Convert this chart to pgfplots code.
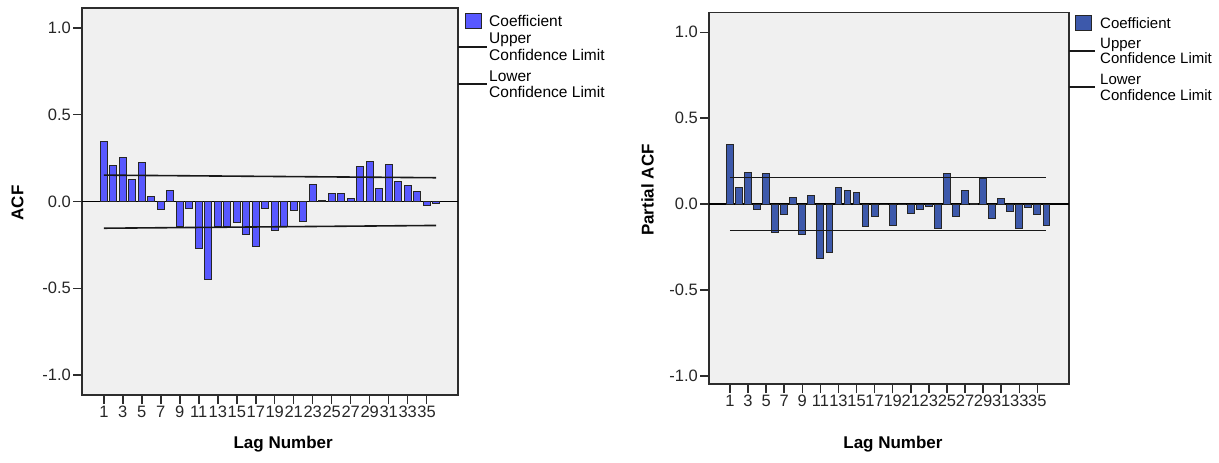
\documentclass[border=0pt]{standalone}
\usepackage{pgfplots}
\usepackage{pgfplotstable}
\pgfplotsset{compat=1.18}
\usepackage{fontspec}
\setmainfont{Liberation Sans}
\definecolor{acfblue}{RGB}{88,88,255}
\definecolor{pacfblue}{RGB}{61,89,171}
\definecolor{panel}{RGB}{240,240,240}
\definecolor{frame}{RGB}{45,45,45}

\pgfplotstableread{
lag val
1 0.346
2 0.206
3 0.256
4 0.125
5 0.225
6 0.027
7 -0.044
8 0.063
9 -0.144
10 -0.042
11 -0.273
12 -0.451
13 -0.144
14 -0.144
15 -0.119
16 -0.192
17 -0.261
18 -0.038
19 -0.169
20 -0.144
21 -0.052
22 -0.113
23 0.096
24 0.003
25 0.046
26 0.044
27 0.015
28 0.202
29 0.231
30 0.077
31 0.211
32 0.115
33 0.090
34 0.056
35 -0.025
36 -0.010
}\acftable

\pgfplotstableread{
lag val
1 0.346
2 0.097
3 0.184
4 -0.029
5 0.179
6 -0.167
7 -0.060
8 0.037
9 -0.177
10 0.047
11 -0.315
12 -0.282
13 0.095
14 0.080
15 0.066
16 -0.130
17 -0.070
18 -0.003
19 -0.124
20 -0.005
21 -0.058
22 -0.033
23 -0.016
24 -0.144
25 0.179
26 -0.070
27 0.076
28 0.002
29 0.151
30 -0.085
31 0.035
32 -0.045
33 -0.140
34 -0.019
35 -0.060
36 -0.124
}\pacftable

\pgfplotsset{spss/.style={
  scale only axis,
  axis background/.style={fill=panel},
  axis line style={draw=frame, line width=1.4pt},
  tick style={draw=frame, line width=1.5pt},
  tick align=outside, major tick length=9pt,
  xtick pos=bottom, ytick pos=left,
  minor tick num=0,
  xtick={1,3,...,35},
  ytick={-1,-0.5,0,0.5,1},
  yticklabel style={/pgf/number format/fixed, /pgf/number format/fixed zerofill, /pgf/number format/precision=1, inner sep=2pt},
  /pgf/number format/assume math mode=true,
  ticklabel style={font=\fontsize{16.5}{18}\selectfont, text=black!85},
  xticklabel style={inner sep=2pt},
  label style={font=\bfseries\fontsize{17}{19}\selectfont},
  ylabel style={rotate=0, anchor=center},
  xlabel style={anchor=center},
}}

\begin{document}
\begin{tikzpicture}
\path[use as bounding box] (0pt,0pt) rectangle (1219pt,-463pt);

% ---------------- ACF ----------------
\begin{axis}[spss,
  at={(82pt,-8pt)}, anchor=north west,
  width=376pt, height=387pt,
  xmin=-1.3, xmax=38.3, ymin=-1.115, ymax=1.115,
  xlabel={Lag Number}, ylabel={ACF},
  xlabel style={at={(axis description cs:0.535,-0.1266)}},
  ylabel style={at={(axis description cs:-0.1715,0.496)}},
]
\addplot[black, line width=1.6pt, forget plot] coordinates {(-1.3,0) (38.3,0)};
\addplot[ybar, bar width=0.75, fill=acfblue, draw=black!85, line width=1pt] table[x=lag, y=val] {\acftable};
\addplot[black!90, line width=1.6pt] coordinates {(1,0.152) (36,0.137)};
\addplot[black!90, line width=1.6pt] coordinates {(1,-0.154) (36,-0.138)};
\end{axis}

% legend ACF
\filldraw[fill=acfblue, draw=black!85, line width=1pt] (465pt,-13.5pt) rectangle (481pt,-28pt);
\node[anchor=west, inner sep=0pt, font=\fontsize{15.5}{17}\selectfont] at (489pt,-20.5pt) {Coefficient};
\draw[black!90, line width=1.6pt] (458pt,-47pt) -- (487pt,-47pt);
\draw[black!90, line width=1.6pt] (458pt,-84pt) -- (487pt,-84pt);
\node[anchor=base west, inner sep=0pt, font=\fontsize{15.5}{17}\selectfont] at (489pt,-43.5pt) {Upper};
\node[anchor=base west, inner sep=0pt, font=\fontsize{15.5}{17}\selectfont] at (489pt,-60pt) {Confidence Limit};
\node[anchor=base west, inner sep=0pt, font=\fontsize{15.5}{17}\selectfont] at (489pt,-81.2pt) {Lower};
\node[anchor=base west, inner sep=0pt, font=\fontsize{15.5}{17}\selectfont] at (489pt,-97.5pt) {Confidence Limit};

% ---------------- PACF ----------------
\begin{axis}[spss,
  at={(709pt,-12.7pt)}, anchor=north west,
  width=360pt, height=371.3pt,
  xmin=-1.32, xmax=38.5, ymin=-1.048, ymax=1.114,
  xlabel={Lag Number}, ylabel={Partial ACF},
  xlabel style={at={(axis description cs:0.511,-0.1616)}},
  ylabel style={at={(axis description cs:-0.1708,0.5225)}},
]
\addplot[black, line width=1.6pt, forget plot] coordinates {(-1.32,0) (38.5,0)};
\addplot[ybar, bar width=0.75, fill=pacfblue, draw=black!85, line width=1pt] table[x=lag, y=val] {\pacftable};
\addplot[black!90, line width=1.6pt] coordinates {(1,0.155) (36,0.155)};
\addplot[black!90, line width=1.6pt] coordinates {(1,-0.155) (36,-0.155)};
\end{axis}

% legend PACF
\filldraw[fill=pacfblue, draw=black!85, line width=1pt] (1075pt,-15pt) rectangle (1091pt,-30.5pt);
\node[anchor=west, inner sep=0pt, font=\fontsize{15}{17}\selectfont] at (1100pt,-23pt) {Coefficient};
\draw[black!90, line width=1.6pt] (1069pt,-51pt) -- (1095pt,-51pt);
\draw[black!90, line width=1.6pt] (1069pt,-86.7pt) -- (1095pt,-86.7pt);
\node[anchor=base west, inner sep=0pt, font=\fontsize{15}{17}\selectfont] at (1100pt,-48pt) {Upper};
\node[anchor=base west, inner sep=0pt, font=\fontsize{15}{17}\selectfont] at (1100pt,-63.5pt) {Confidence Limit};
\node[anchor=base west, inner sep=0pt, font=\fontsize{15}{17}\selectfont] at (1100pt,-84.5pt) {Lower};
\node[anchor=base west, inner sep=0pt, font=\fontsize{15}{17}\selectfont] at (1100pt,-100pt) {Confidence Limit};
\end{tikzpicture}
\end{document}
